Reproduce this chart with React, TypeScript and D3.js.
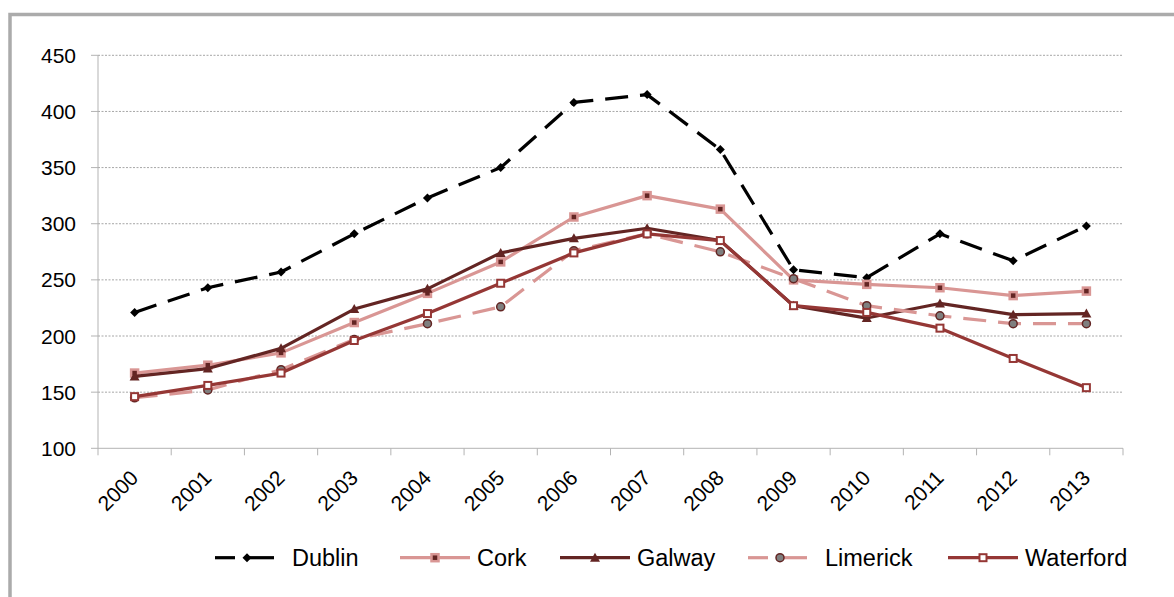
import React, { useEffect, useRef } from 'react';
import * as d3 from 'd3';

// values
const years = ['2000', '2001', '2002', '2003', '2004', '2005', '2006', '2007', '2008', '2009', '2010', '2011', '2012', '2013'];
const dublin = [221, 243, 257, 291, 323, 350, 408, 415, 366, 259, 252, 291, 267, 298];
const cork = [167, 174, 185, 212, 238, 266, 306, 325, 313, 250, 246, 243, 236, 240];
const galway = [164, 171, 189, 224, 242, 274, 287, 296, 285, 227, 216, 229, 219, 220];
const limerick = [145, 152, 170, 197, 211, 226, 276, 291, 275, 251, 227, 218, 211, 211];
const waterford = [146, 156, 167, 196, 220, 247, 274, 291, 285, 227, 221, 207, 180, 154];
const yTicks = [100, 150, 200, 250, 300, 350, 400, 450];

const seriesNames = ['Dublin', 'Cork', 'Galway', 'Limerick', 'Waterford'];
const seriesValues = [dublin, cork, galway, limerick, waterford];

const PINK = '#D99694';
const MAROON = '#632523';
const RED = '#953735';

const styles: Record<string, { color: string; dash: string | null; marker: string }> = {
  Dublin: { color: '#000000', dash: '23 12', marker: 'diamond' },
  Cork: { color: PINK, dash: null, marker: 'csquare' },
  Galway: { color: MAROON, dash: null, marker: 'triangle' },
  Limerick: { color: PINK, dash: '23 12', marker: 'circle' },
  Waterford: { color: RED, dash: null, marker: 'osquare' }
};

const FONT = "'Liberation Sans', Arial, sans-serif";

function drawMarker(g: any, kind: string, x: number, y: number) {
  if (kind === 'diamond') {
    g.append('path')
      .attr('d', `M${x},${y - 4.5}L${x + 4.5},${y}L${x},${y + 4.5}L${x - 4.5},${y}Z`)
      .attr('fill', '#000');
  } else if (kind === 'csquare') {
    g.append('rect')
      .attr('x', x - 3.5).attr('y', y - 3.5)
      .attr('width', 7).attr('height', 7)
      .attr('fill', MAROON)
      .attr('stroke', PINK).attr('stroke-width', 2.5);
  } else if (kind === 'triangle') {
    g.append('path')
      .attr('d', `M${x},${y - 5}L${x + 5},${y + 4}L${x - 5},${y + 4}Z`)
      .attr('fill', MAROON);
  } else if (kind === 'circle') {
    g.append('circle')
      .attr('cx', x).attr('cy', y).attr('r', 4)
      .attr('fill', '#7f7f7f')
      .attr('stroke', MAROON).attr('stroke-width', 1.5);
  } else {
    g.append('rect')
      .attr('x', x - 3.5).attr('y', y - 3.5)
      .attr('width', 7).attr('height', 7)
      .attr('fill', '#fff')
      .attr('stroke', RED).attr('stroke-width', 2);
  }
}

export default function App() {
  const ref = useRef<SVGSVGElement>(null);

  useEffect(() => {
    const svg = d3.select(ref.current);
    svg.selectAll('*').remove();

    const left = 98, right = 1123, top = 55.3, bottom = 448.3;

    const x = d3.scaleBand().domain(years).range([left, right]);
    const y = d3.scaleLinear().domain([100, 450]).range([bottom, top]);

    // outer frame
    svg.append('rect')
      .attr('x', 10).attr('y', 14.5)
      .attr('width', 1300).attr('height', 700)
      .attr('fill', '#fff')
      .attr('stroke', '#ababab').attr('stroke-width', 3.5);

    // gridlines
    svg.append('g')
      .selectAll('line')
      .data(yTicks.slice(1))
      .join('line')
      .attr('x1', left).attr('x2', right)
      .attr('y1', d => y(d)).attr('y2', d => y(d))
      .attr('stroke', '#a6a6a6')
      .attr('stroke-width', 1)
      .attr('stroke-dasharray', '2 1.5');

    // y axis
    const yAxis = svg.append('g');
    yAxis.append('line')
      .attr('x1', left).attr('x2', left)
      .attr('y1', top).attr('y2', bottom)
      .attr('stroke', '#b3b3b3');
    yAxis.selectAll('.tick')
      .data(yTicks)
      .join('line')
      .attr('x1', left - 7).attr('x2', left)
      .attr('y1', d => y(d)).attr('y2', d => y(d))
      .attr('stroke', '#b3b3b3');
    yAxis.selectAll('text')
      .data(yTicks)
      .join('text')
      .attr('x', 76)
      .attr('y', d => y(d))
      .attr('dy', '0.36em')
      .attr('text-anchor', 'end')
      .style('font-family', FONT)
      .style('font-size', '21px')
      .attr('fill', '#000')
      .text(d => d);

    // x axis
    const xAxis = svg.append('g');
    xAxis.append('line')
      .attr('x1', left).attr('x2', right)
      .attr('y1', bottom).attr('y2', bottom)
      .attr('stroke', '#b3b3b3');
    xAxis.selectAll('line.tk')
      .data(d3.range(years.length + 1))
      .join('line')
      .attr('class', 'tk')
      .attr('x1', i => left + i * x.step()).attr('x2', i => left + i * x.step())
      .attr('y1', bottom).attr('y2', bottom + 7)
      .attr('stroke', '#b3b3b3');
    xAxis.selectAll('text')
      .data(years)
      .join('text')
      .attr('transform', d => `translate(${x(d)! + x.bandwidth() / 2 + 5},${bottom + 31}) rotate(-45)`)
      .attr('text-anchor', 'end')
      .style('font-family', FONT)
      .style('font-size', '21px')
      .attr('fill', '#000')
      .text(d => d);

    // series
    const line = d3.line<number>()
      .x((d, i) => x(years[i])! + x.bandwidth() / 2)
      .y(d => y(d));

    seriesNames.forEach((name, si) => {
      const st = styles[name];
      const g = svg.append('g');
      g.append('path')
        .datum(seriesValues[si])
        .attr('d', line)
        .attr('fill', 'none')
        .attr('stroke', st.color)
        .attr('stroke-width', 3.2)
        .attr('stroke-linejoin', 'round')
        .attr('stroke-dasharray', st.dash);
      seriesValues[si].forEach((v, i) => {
        drawMarker(g, st.marker, x(years[i])! + x.bandwidth() / 2, y(v));
      });
    });

    // legend
    const legendX = [215, 400, 560, 748, 948];
    const legendY = 557.7;
    seriesNames.forEach((name, i) => {
      const st = styles[name];
      const g = svg.append('g');
      const lx = legendX[i];
      if (st.dash) {
        g.append('line')
          .attr('x1', lx).attr('x2', lx + 20)
          .attr('y1', legendY).attr('y2', legendY)
          .attr('stroke', st.color).attr('stroke-width', 3.2);
        g.append('line')
          .attr('x1', lx + 30).attr('x2', lx + 59)
          .attr('y1', legendY).attr('y2', legendY)
          .attr('stroke', st.color).attr('stroke-width', 3.2);
      } else {
        g.append('line')
          .attr('x1', lx).attr('x2', lx + 70)
          .attr('y1', legendY).attr('y2', legendY)
          .attr('stroke', st.color).attr('stroke-width', 3.2);
      }
      drawMarker(g, st.marker, st.dash ? lx + 32 : lx + 35, legendY);
      g.append('text')
        .attr('x', lx + 77)
        .attr('y', legendY)
        .attr('dy', '0.36em')
        .style('font-family', FONT)
        .style('font-size', '23.5px')
        .attr('fill', '#000')
        .text(name);
    });
  }, []);

  return (
    <svg ref={ref} width={1174} height={597}
      style={{ position: 'absolute', left: 0, top: 0, background: '#fff' }} />
  );
}
